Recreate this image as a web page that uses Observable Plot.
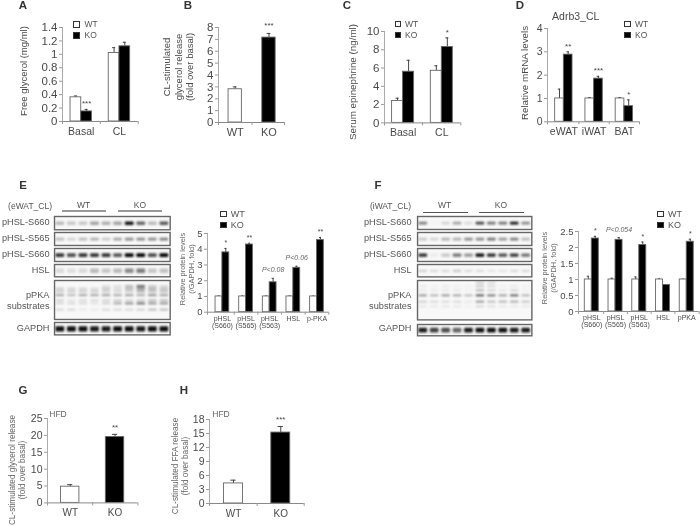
<!DOCTYPE html>
<html><head><meta charset="utf-8">
<script src="https://cdn.jsdelivr.net/npm/d3@7"></script>
<script src="https://cdn.jsdelivr.net/npm/@observablehq/plot@0.6"></script>
<style>
html,body{margin:0;padding:0;background:#fff}
#fig{position:relative;width:700px;height:526px;overflow:hidden;font-family:"Liberation Sans",Arial,sans-serif;color:#4a4a4a;filter:blur(.4px)}
#fig svg{position:absolute;max-width:none;background:transparent;overflow:visible}
.t{position:absolute;white-space:pre;line-height:1}
.sw{position:absolute;box-sizing:border-box;border:1px solid #333}
</style></head><body><div id="fig"></div>
<script>
// ---------- data ----------
const groupsA=["Basal","CL"], wtA=[0.36,1.02], koA=[0.15,1.12], wtErrA=[0.02,0.08], koErrA=[0.03,0.06], starsA=["***",""], ticksA=[0,0.2,0.4,0.6,0.8,1,1.2,1.4];
const groupsB=["WT","KO"], valB=[2.8,7.15], errB=[0.2,0.35], starsB=["","***"], ticksB=[0,1,2,3,4,5,6,7,8];
const groupsC=["Basal","CL"], wtC=[2.4,5.7], koC=[5.6,8.3], wtErrC=[0.3,0.55], koErrC=[1.25,1], starsC=["","*"], ticksC=[0,2,4,6,8,10];
const groupsD=["eWAT","iWAT","BAT"], wtD=[1,1,1], koD=[2.88,1.85,0.67], wtErrD=[0.4,0.04,0.04], koErrD=[0.12,0.1,0.27], starsD=["**","***","*"], ticksD=[0,1,2,3,4];
const groupsE=["pHSL\n(S660)","pHSL\n(S565)","pHSL\n(S563)","HSL","p-PKA"], wtE=[1,1,1,1,1], koE=[3.8,4.3,1.9,2.82,4.58], wtErrE=[0.03,0.03,0.03,0.03,0.02], koErrE=[0.25,0.08,0.25,0.1,0.17], starsE=["*","**","P<0.08","P<0.06","**"], ticksE=[0,1,2,3,4,5];
const groupsF=["pHSL\n(S660)","pHSL\n(S565)","pHSL\n(S563)","HSL","pPKA"], wtF=[1,1,1,1,1], koF=[2.28,2.24,2.08,0.83,2.18], wtErrF=[0.1,0.04,0.08,0.02,0.01], koErrF=[0.07,0.07,0.09,0.01,0.08], starsF=["*","P<0.054","*","","*"], ticksF=[0,0.5,1,1.5,2,2.5];
const groupsG=["WT","KO"], valG=[4.8,19.5], errG=[0.6,0.8], starsG=["","**"], ticksG=[0,5,10,15,20,25];
const groupsH=["WT","KO"], valH=[4.3,15.2], errH=[0.7,1.3], starsH=["","***"], ticksH=[0,3,6,9,12,15,18];

// band strengths per lane
const E1=[.25,.2,.2,.35,.3,.35,.95,.6,.25,.65], E2=[.25,.15,.25,.3,.2,.35,.45,.45,.45,.5], E3=[.8,.7,.8,.8,.8,.65,1,1,.7,1], E4=[.12,.1,.12,.25,.2,.25,.45,.5,.2,.22], E6=[.95,.95,.95,.9,.9,.95,.95,.9,.95,.95];
const Epos=[.16,.22,.29,.39,.52,.6,.76];
const Epka=[[0,0,0,0,.12,.12,.3,.7,.22,.15],[.22,.18,.18,.15,.25,.15,.35,.55,.38,.3],[.22,.22,.22,.22,.22,.18,.22,.38,.3,.3],[.4,.3,.4,.4,.42,.38,.42,.38,.48,.42],[.18,.1,.15,.15,.18,.22,.18,.22,.3,.3],[.15,.15,.15,.1,.18,.38,.5,.65,.48,.48],[.15,.15,.07,.07,.15,.15,.15,.18,.28,.28]];
const F1=[.5,.02,.15,.35,.12,.75,.55,.55,.95,.45], F2=[.2,.15,.3,.3,.45,.45,.55,.4,.5,.25], F3=[.85,.05,.2,.55,.4,1,.85,.7,.8,.55], F4=[.2,.15,.15,.25,.15,.15,.1,.1,.15,.15], F6=[.9,.75,.7,.6,.9,.95,.95,.95,.9,.9];
const Fpos=[.06,.15,.26,.39,.55,.67];
const Fpka=[[0,0,0,0,0,.22,.15,0,0,0],[.07,.04,.07,.04,.04,.22,.15,.04,.07,.04],[.07,.07,.07,.07,.04,.28,.15,.07,.15,.04],[.45,.32,.45,.4,.28,.75,.6,.42,.7,.32],[.2,.15,.15,.15,.08,.45,.28,.32,.36,.24],[.09,.08,.09,.08,.04,.15,.12,.08,.08,.08]];

// ---------- helpers ----------
const fig=document.getElementById("fig");
function text(s,x,y,o={}){
  const d=document.createElement("div");d.className="t";d.textContent=s;
  const a=o.anchor||"middle";
  const tx=a==="middle"?"-50%":a==="end"?"-100%":"0";
  d.style.left=x+"px";d.style.top=y+"px";
  d.style.fontSize=(o.size||10)+"px";
  if(o.color)d.style.color=o.color;
  if(o.weight)d.style.fontWeight=o.weight;
  if(o.italic)d.style.fontStyle="italic";
  if(o.align)d.style.textAlign=o.align;
  if(o.lh)d.style.lineHeight=o.lh;
  d.style.transform=`translate(${tx},-50%)`+(o.rotate?` rotate(${o.rotate}deg)`:"");
  fig.appendChild(d);
}
function legend(sx,tx,y1,y2,sz,fs){
  [["WT","#fff",y1],["KO","#000",y2]].forEach(([n,c,y])=>{
    const s=document.createElement("div");s.className="sw";
    s.style.cssText+=`left:${sx}px;top:${y-sz/2}px;width:${sz}px;height:${sz}px;background:${c}`;
    fig.appendChild(s);
    text(n,tx,y,{anchor:"start",size:fs,color:"#555"});
  });
}
function pairs(wt,ko,we,ke){
  const r=[];
  wt.forEach((v,i)=>{r.push({i,side:-1,v,e:we[i],fill:"#fff"});r.push({i,side:1,v:ko[i],e:ke[i],fill:"#000"});});
  return r;
}
function singles(v,e){return v.map((d,i)=>({i,side:0,v:d,e:e[i],fill:i===0?"#fff":"#000"}));}
function panel(o){
  const m={l:30,r:8,t:14,b:30};
  const W=o.x1-o.x0,H=o.y0-o.y1;
  const bw=o.bw;
  const lo=d=>d.side===0?d.i-bw/2:d.side<0?d.i-bw:d.i;
  const hi=d=>d.side===0?d.i+bw/2:d.side<0?d.i:d.i+bw;
  const mid=d=>(lo(d)+hi(d))/2;
  const ends=[o.dom[0],...o.groups.slice(1).map((_,i)=>i+.5),o.dom[1]];
  const sig=o.stars.map((s,i)=>{const d=o.rows.filter(r=>r.i===i).slice(-1)[0];return{s,d};}).filter(q=>q.s);
  const sigPlain=sig.filter(q=>q.s[0]!=="P"),sigP=sig.filter(q=>q.s[0]==="P");
  const el=Plot.plot({
    width:W+m.l+m.r,height:H+m.t+m.b,
    marginLeft:m.l,marginRight:m.r,marginTop:m.t,marginBottom:m.b,
    style:{fontFamily:'"Liberation Sans",Arial,sans-serif',background:"transparent"},
    x:{type:"linear",domain:o.dom,range:[m.l,m.l+W]},
    y:{type:"linear",domain:[0,o.top],range:[m.t+H,m.t]},
    marks:[
      Plot.ruleX(o.rows,{x:mid,y1:"v",y2:d=>d.v+d.e,stroke:"#444",strokeWidth:1}),
      Plot.ruleY(o.rows,{y:d=>d.v+d.e,x1:d=>mid(d)-bw*.14,x2:d=>mid(d)+bw*.14,stroke:"#444",strokeWidth:1}),
      Plot.rect(o.rows,{x1:lo,x2:hi,y1:0,y2:"v",fill:"fill",stroke:"#666",strokeWidth:.9}),
      Plot.axisY({ticks:o.ticks,tickFormat:d=>String(d),tickSize:3,tickPadding:o.pad||2,fontSize:o.fy,stroke:"#999",label:null,anchor:"left",fill:"#4a4a4a"}),
      Plot.ruleX([o.dom[0]],{stroke:"#aaa",strokeWidth:1}),
      Plot.ruleY([0],{stroke:"#888",strokeWidth:1}),
      Plot.axisX({ticks:ends,tickFormat:()=>"",tickSize:3,stroke:"#999",label:null}),
      Plot.axisX({ticks:o.groups.map((_,i)=>i),tickFormat:i=>o.groups[i],tickSize:0,tickPadding:o.xpad||6,fontSize:o.fx,fill:"#4a4a4a",label:null}),
      Plot.text(sigPlain,{x:q=>mid(q.d),y:q=>q.d.v+q.d.e,text:"s",dy:o.sdy||-3,lineAnchor:"bottom",fontSize:o.fs||8,fill:"#444"}),
      Plot.text(sigP,{x:q=>mid(q.d),y:q=>q.d.v+q.d.e,text:"s",dy:-6,lineAnchor:"bottom",fontSize:7,fontStyle:"italic",fill:"#666"})
    ]
  });
  el.style.left=(o.x0-m.l)+"px";el.style.top=(o.y1-m.t)+"px";
  fig.appendChild(el);
}
function blot(x0,x1,y0,y1,bands,th){
  const W=x1-x0,H=y1-y0;
  const rows=[];
  bands.forEach(b=>b.lanes.forEach((s,l)=>{if(s>0)rows.push({l,pos:b.pos,s});}));
  const el=Plot.plot({
    width:W,height:H,margin:0,
    style:{background:"transparent"},
    x:{type:"linear",domain:[-.5,9.5],range:[0,W],axis:null},
    y:{type:"linear",domain:[0,1],range:[0,H],axis:null},
    opacity:{type:"identity"},
    marks:[
      Plot.frame({fill:"#f8f8f8",stroke:"none"}),
      Plot.rect(rows,{x1:d=>d.l-.38,x2:d=>d.l+.38,y1:d=>d.pos-th/2,y2:d=>d.pos+th/2,fill:"#000",fillOpacity:"s",imageFilter:"blur(0.8px)",rx:1}),
      Plot.frame({stroke:"#666",strokeWidth:1.4})
    ]
  });
  el.style.left=x0+"px";el.style.top=y0+"px";
  fig.appendChild(el);
}
const one=a=>[{pos:.55,lanes:a}];
const multi=(p,m)=>p.map((pos,k)=>({pos,lanes:m[k]}));
function rule(x1,x2,y,c,w){
  const s=document.createElement("div");
  s.style.cssText=`position:absolute;left:${x1}px;top:${y-w/2}px;width:${x2-x1}px;height:${w}px;background:${c}`;
  fig.appendChild(s);
}

// ---------- panels ----------
const L={size:11.5,weight:"bold",color:"#333"};
text("A",23,6,L);text("B",188,6,L);text("C",347,6,L);text("D",520,6,L);
text("E",23,186,L);text("F",378,186,L);text("G",23,391,L);text("H",184,391,L);

// A
panel({x0:62,x1:137.7,y0:120.7,y1:26.7,dom:[-.49,1.49],bw:.28,top:1.4,ticks:ticksA,groups:groupsA,rows:pairs(wtA,koA,wtErrA,koErrA),stars:starsA,fy:11.5,fx:10.5,fs:8});
legend(73,84.5,24,35,7,8.5);
text("Free glycerol (mg/ml)",24,71,{size:9.5,rotate:-90});
// B
panel({x0:218.3,x1:284.3,y0:122,y1:27,dom:[-.495,1.46],bw:.395,top:8,ticks:ticksB,groups:groupsB,rows:singles(valB,errB),stars:starsB,fy:11.5,fx:11,fs:8,sdy:-5});
text("CL-stimulated\nglycerol release\n(fold over basal)",178,67,{size:9.5,rotate:-90,align:"center",lh:"11.5px"});
// C
panel({x0:383.7,x1:460,y0:122.7,y1:31.3,dom:[-.48,1.49],bw:.284,top:10,ticks:ticksC,groups:groupsC,rows:pairs(wtC,koC,wtErrC,koErrC),stars:starsC,fy:11.5,fx:10.5,fs:8});
legend(394.5,405,24,35,6.5,8.5);
text("Serum epinephrine (ng/ml)",353,82,{size:9.8,rotate:-90});
// D
panel({x0:546.7,x1:638.7,y0:121.3,y1:28,dom:[-.54,2.5],bw:.287,top:4,ticks:ticksD,groups:groupsD,rows:pairs(wtD,koD,wtErrD,koErrD),stars:starsD,fy:10.5,fx:10.5,fs:8});
legend(624,635,24,35,6.5,8.5);
text("Adrb3_CL",575.7,16,{size:10.5});
text("Relative mRNA levels",525,73,{size:9.8,rotate:-90});

// E blots
[[215.7,229,one(E1),.26],[232,245,one(E2),.2],[248.3,261.3,one(E3),.3],[264,276.3,one(E4),.38],[279.7,318.7,multi(Epos,Epka),.045],[322.3,334.7,one(E6),.42]].forEach(([a,b,bands,th])=>blot(54,169.7,a,b,bands,th));
[["pHSL-S660",222.5],["pHSL-S565",238.5],["pHSL-S660",254.8],["HSL",270.5],["pPKA",296],["substrates",307],["GAPDH",328.5]].forEach(([s,y])=>text(s,49.5,y,{anchor:"end",size:9.2,color:"#555"}));
text("(eWAT_CL)",52,206,{anchor:"end",size:8.5,color:"#555"});
text("WT",83.5,205,{size:8.5,color:"#555"});text("KO",140,205,{size:8.5,color:"#555"});
rule(61.7,105.7,211,"#999",1.3);rule(117.7,162,211,"#999",1.3);
// E bars
panel({x0:206.7,x1:328,y0:311.7,y1:233,dom:[-.63,4.5],bw:.29,top:5,ticks:ticksE,groups:groupsE,rows:pairs(wtE,koE,wtErrE,koErrE),stars:starsE,fy:9.5,fx:7,fs:7,xpad:4});
legend(220,230.7,214,225,6.5,9);
text("Relative protein levels\n(/GAPDH, fold)",187,269,{size:7.4,rotate:-90,align:"center",color:"#666",lh:"8.5px"});

// F blots
[[216.3,229.3,one(F1),.22],[232.3,245.3,one(F2),.2],[248.3,261.3,one(F3),.26],[264.3,276.7,one(F4),.14],[280.3,319.7,multi(Fpos,Fpka),.045],[323.7,335,one(F6),.42]].forEach(([a,b,bands,th])=>blot(417.3,531.7,a,b,bands,th));
[["pHSL-S660",223],["pHSL-S565",239],["pHSL-S660",255],["HSL",271],["pPKA",296],["substrates",307],["GAPDH",329]].forEach(([s,y])=>text(s,411.5,y,{anchor:"end",size:9.2,color:"#555"}));
text("(iWAT_CL)",411,206,{anchor:"end",size:8.5,color:"#555"});
text("WT",444.7,205,{size:8.5,color:"#555"});text("KO",501,205,{size:8.5,color:"#555"});
rule(423,467.7,212,"#555",1);rule(479,523.7,212,"#555",1);
// F bars
panel({x0:577.7,x1:698.3,y0:311,y1:231,dom:[-.56,4.52],bw:.295,top:2.5,ticks:ticksF,groups:groupsF,rows:pairs(wtF,koF,wtErrF,koErrF),stars:starsF,fy:9.5,fx:7,fs:7,xpad:4});
legend(657.3,668,214,225,6.5,9);
text("Relative protein levels\n(/GAPDH, fold)",548.5,268,{size:7.4,rotate:-90,align:"center",color:"#666",lh:"8.5px"});

// G
panel({x0:47.3,x1:137.7,y0:502.7,y1:418.3,dom:[-.507,1.51],bw:.41,top:25,ticks:ticksG,groups:groupsG,rows:singles(valG,errG),stars:starsG,fy:10.5,fx:10,fs:8,sdy:-4});
text("HFD",58,414,{size:8.5,color:"#666"});
text("CL-stimulated glycerol release\n(fold over basal)",18,470,{size:8.2,rotate:-90,align:"center",color:"#666",lh:"10px"});
// H
panel({x0:209.3,x1:304,y0:502.7,y1:418.7,dom:[-.507,1.495],bw:.4,top:18,ticks:ticksH,groups:groupsH,rows:singles(valH,errH),stars:starsH,fy:10.5,fx:10,fs:8,sdy:-4});
text("HFD",221,414,{size:8.5,color:"#666"});
text("CL-stimulated FFA release\n(fold over basal)",181,466,{size:8.2,rotate:-90,align:"center",color:"#666",lh:"10px"});
</script></body></html>
